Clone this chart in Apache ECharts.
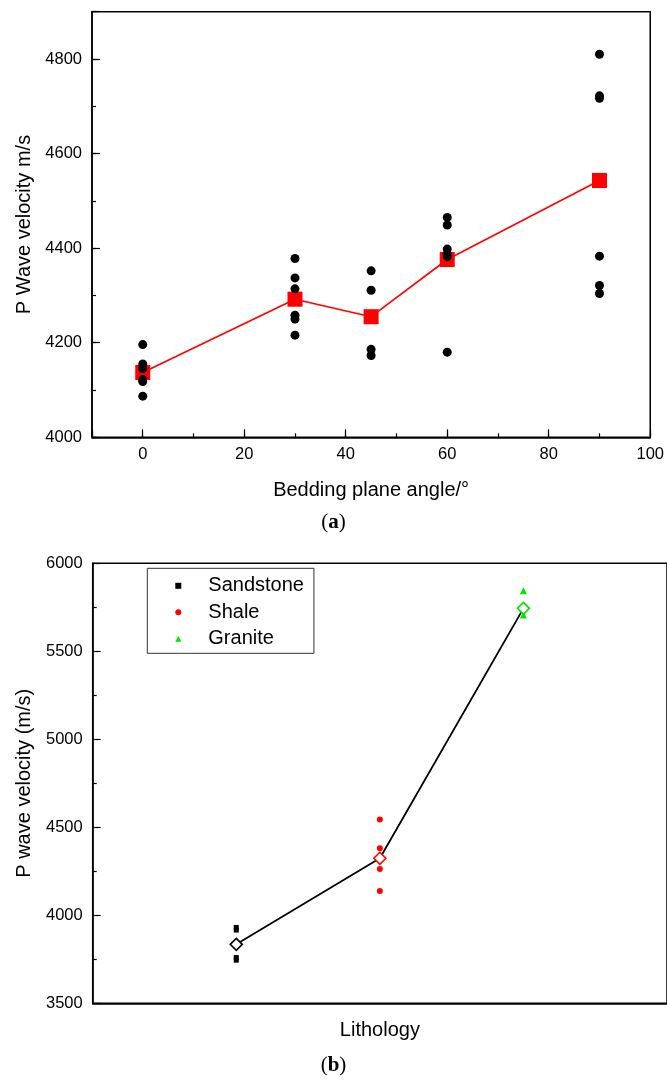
<!DOCTYPE html>
<html>
<head>
<meta charset="utf-8">
<script src="https://cdn.jsdelivr.net/npm/echarts@6/dist/echarts.min.js"></script>
<style>
html,body{margin:0;padding:0;background:#fff;}
#c{width:667px;height:1081px;}
</style>
</head>
<body>
<div id="c"></div>
<script>
// ---- Chart (a) data ----
const angles = [0, 30, 45, 60, 90];
const pts0  = [4196, 4155, 4145, 4122, 4118, 4087];
const pts30 = [4378, 4337, 4314, 4258, 4250, 4216];
const pts45 = [4352, 4311, 4186, 4173];
const pts60 = [4465, 4449, 4398, 4388, 4382, 4180];
const pts90 = [4810, 4722, 4717, 4383, 4321, 4304];
const meansA = [4137, 4292, 4255, 4376, 4543];

// ---- Chart (b) data ----
const lithology = ['Sandstone', 'Shale', 'Granite'];
const lithoPos = [1, 2, 3];
const sandstone = [3931, 3916, 3760, 3745];
const shale = [4545, 4381, 4263, 4138];
const granite = [5844, 5706];
const meansB = [3835, 4324, 5744];
const meanColors = ['#000000', '#ff0000', '#00e600'];

const FONT = '"Liberation Sans", Arial, sans-serif';
const groups = [pts0, pts30, pts45, pts60, pts90];
const scatterA = [];
groups.forEach((g, i) => g.forEach(v => scatterA.push([angles[i], v])));

const chart = echarts.init(document.getElementById('c'), null, {renderer: 'canvas'});
const axisLine = {show: true, onZero: false, lineStyle: {color: '#000', width: 1.5}};
const noLine = {show: false, onZero: false};
const lbl = {color: '#000', fontSize: 16.5, fontFamily: FONT};
const nameTS = {color: '#000', fontSize: 20, fontFamily: FONT};
const tickMinor = {show: true, inside: true, length: 4, lineStyle: {color: '#000', width: 1.2}};
const tickMajor = {show: true, inside: true, length: 8, lineStyle: {color: '#000', width: 1.2}};

chart.setOption({
  animation: false,
  backgroundColor: '#fff',
  grid: [
    {left: 92, top: 11.7, width: 560.7, height: 425.6, show: true, borderColor: '#000', borderWidth: 1.5, backgroundColor: 'transparent'},
    {left: 92.7, top: 563.3, width: 576, height: 440, show: true, borderColor: '#000', borderWidth: 1.5, backgroundColor: 'transparent'}
  ],
  xAxis: [
    {type: 'value', gridIndex: 0, position: 'bottom', min: -10, max: 100, interval: 10,
     axisLine: noLine, axisTick: tickMinor, axisLabel: {show: false}, splitLine: {show: false}},
    {type: 'value', gridIndex: 0, position: 'bottom', min: -10, max: 100, splitNumber: 5,
     axisLine: axisLine, axisTick: tickMajor,
     axisLabel: Object.assign({margin: 9, formatter: v => (v < 0 ? '' : String(v))}, lbl),
     splitLine: {show: false},
     name: 'Bedding plane angle/\u00b0', nameLocation: 'middle', nameGap: 43, nameTextStyle: nameTS},
    {type: 'value', gridIndex: 1, position: 'bottom', min: 0, max: 4,
     axisLine: axisLine, axisTick: {show: false}, axisLabel: {show: false}, splitLine: {show: false},
     name: 'Lithology', nameLocation: 'middle', nameGap: 17, nameTextStyle: nameTS}
  ],
  yAxis: [
    {type: 'value', gridIndex: 0, position: 'left', min: 4000, max: 4900, interval: 100,
     axisLine: noLine, axisTick: tickMinor, axisLabel: {show: false}, splitLine: {show: false}},
    {type: 'value', gridIndex: 0, position: 'left', min: 4000, max: 4900, interval: 200,
     axisLine: axisLine, axisTick: tickMajor,
     axisLabel: Object.assign({margin: 10, formatter: v => (v > 4800 ? '' : String(v))}, lbl),
     splitLine: {show: false},
     name: 'P Wave velocity m/s', nameLocation: 'middle', nameGap: 55, nameTextStyle: nameTS},
    {type: 'value', gridIndex: 1, position: 'left', min: 3500, max: 6000, interval: 500,
     axisLine: axisLine, axisTick: tickMajor,
     minorTick: {show: true, splitNumber: 2, length: 4, lineStyle: {color: '#000', width: 1.2}},
     axisLabel: Object.assign({margin: 10, formatter: v => String(v)}, lbl),
     splitLine: {show: false},
     name: 'P wave velocity (m/s)', nameLocation: 'middle', nameGap: 58, nameTextStyle: nameTS}
  ],
  legend: {
    data: lithology,
    orient: 'vertical',
    left: 147.3, top: 568.3,
    padding: [7, 10, 4, 28],
    itemWidth: 6, itemHeight: 6, itemGap: 5.5,
    borderColor: '#333', borderWidth: 1, backgroundColor: '#fff',
    textStyle: {color: '#000', fontSize: 20, fontFamily: FONT, lineHeight: 21, padding: [0, 0, 0, 22]}
  },
  graphic: [
    {type: 'text', left: 'center', top: 512, style: {
      text: '({b|a})', font: '21px "Liberation Serif", serif', fill: '#000',
      rich: {b: {fontWeight: 'bold', fontSize: 21, fontFamily: '"Liberation Serif", serif'}}
    }},
    {type: 'text', left: 'center', top: 1055, style: {
      text: '({b|b})', font: '21px "Liberation Serif", serif', fill: '#000',
      rich: {b: {fontWeight: 'bold', fontSize: 21, fontFamily: '"Liberation Serif", serif'}}
    }}
  ],
  series: [
    {type: 'line', xAxisIndex: 1, yAxisIndex: 1, data: angles.map((a, i) => [a, meansA[i]]),
     symbol: 'rect', symbolSize: 15, itemStyle: {color: '#ff0000'},
     lineStyle: {color: '#ff0000', width: 1.6}, z: 2},
    {type: 'scatter', xAxisIndex: 1, yAxisIndex: 1, data: scatterA,
     symbol: 'circle', symbolSize: 9, itemStyle: {color: '#000', opacity: 1}, z: 3},
    {name: 'Sandstone', type: 'scatter', xAxisIndex: 2, yAxisIndex: 2,
     data: sandstone.map(v => [lithoPos[0], v]), symbol: 'rect', symbolSize: 5,
     itemStyle: {color: '#000', opacity: 1}, z: 2},
    {name: 'Shale', type: 'scatter', xAxisIndex: 2, yAxisIndex: 2,
     data: shale.map(v => [lithoPos[1], v]), symbol: 'circle', symbolSize: 6,
     itemStyle: {color: '#ff0000', opacity: 1}, z: 2},
    {name: 'Granite', type: 'scatter', xAxisIndex: 2, yAxisIndex: 2,
     data: granite.map(v => [lithoPos[2], v]), symbol: 'triangle', symbolSize: 7,
     itemStyle: {color: '#00e600', opacity: 1}, z: 2},
    {type: 'line', xAxisIndex: 2, yAxisIndex: 2,
     data: meansB.map((v, i) => ({value: [lithoPos[i], v], itemStyle: {color: '#fff', borderColor: meanColors[i], borderWidth: 1.6}})),
     symbol: 'diamond', symbolSize: [12, 12], showAllSymbol: true,
     lineStyle: {color: '#000', width: 1.8}, z: 4}
  ]
});
</script>
</body>
</html>
